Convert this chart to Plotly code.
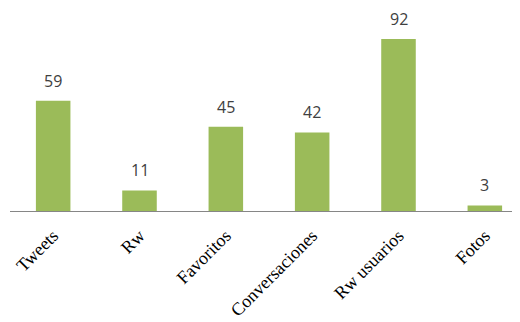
import plotly.graph_objects as go

categories = ["Tweets", "Rw", "Favoritos", "Conversaciones", "Rw usuarios", "Fotos"]
values = [59, 11, 45, 42, 92, 3]

bar_color = "#9BBB59"

fig = go.Figure()
fig.add_trace(go.Bar(
    x=categories, y=values,
    marker=dict(color=bar_color, line=dict(width=0)),
    width=0.4,
    hoverinfo="skip",
))

for c, v in zip(categories, values):
    fig.add_annotation(
        x=c, y=v, text=str(v), showarrow=False,
        yanchor="bottom", yshift=7,
        font=dict(family="Open Sans, Liberation Sans, sans-serif", size=16, color="#404040"),
    )

# the page body adds an 8px offset; margins compensate for it
fig.update_layout(
    width=520, height=322,
    margin=dict(l=2, r=0, t=2, b=119),
    plot_bgcolor="white", paper_bgcolor="white",
    showlegend=False,
    xaxis=dict(
        range=[-0.5, 5.5],
        automargin=False,
        showline=True, linecolor="#868686", linewidth=1,
        ticks="", showgrid=False, zeroline=False,
        tickangle=-45,
        ticklabelstandoff=6,
        tickfont=dict(family="Liberation Serif, Times New Roman, serif", size=18, color="#000000"),
        fixedrange=True,
    ),
    yaxis=dict(
        range=[0, 107.5], automargin=False, visible=False, showgrid=False, zeroline=False, fixedrange=True,
    ),
)

fig.write_html("out.html")
